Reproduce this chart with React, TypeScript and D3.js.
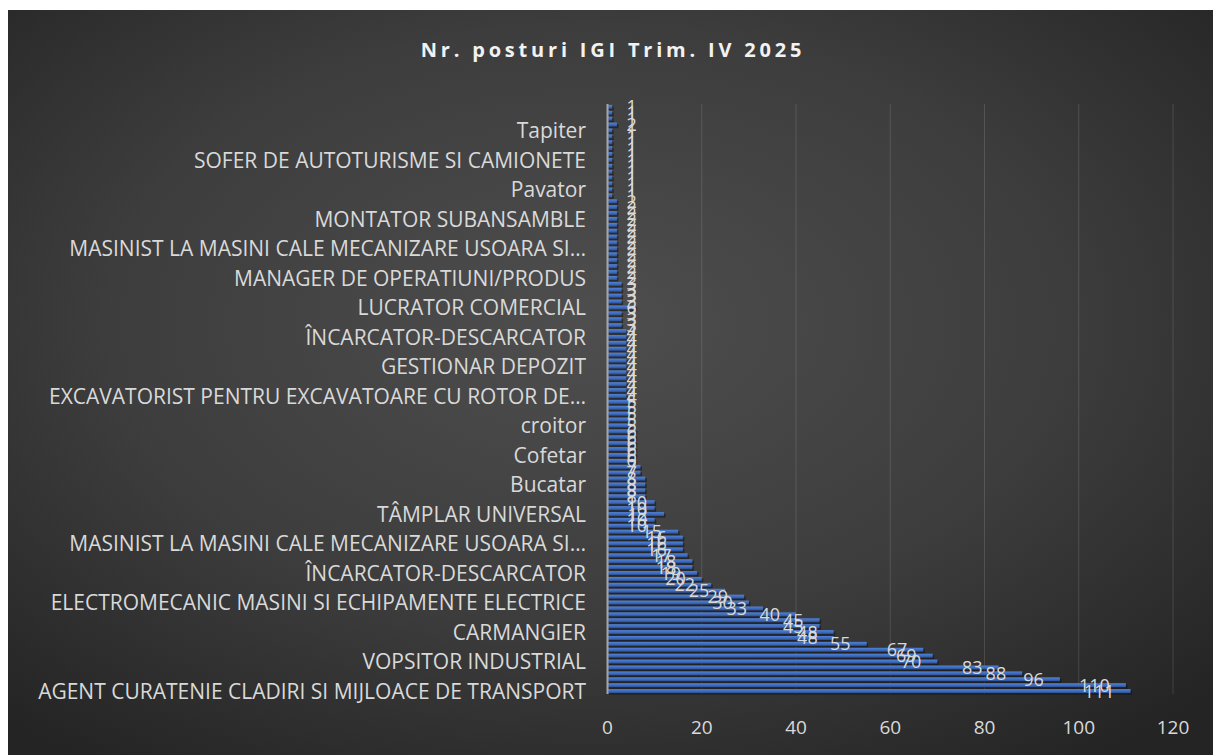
import React from "react";
import { scaleLinear, scaleBand, range } from "d3";

// Nr. posturi IGI, Trim. IV 2025 - bars listed from the bottom of the chart upwards
const title = "Nr. posturi IGI Trim. IV 2025";

const values = [
  111, 110, 96, 88, 83, 70, 69, 67, 55, 48,
  48, 45, 45, 40, 33, 30, 29, 25, 22, 20,
  19, 18, 18, 17, 16, 16, 16, 15, 10, 10,
  12, 10, 10, 8, 8, 8, 8, 7, 7, 6,
  6, 6, 6, 6, 6, 5, 5, 5, 5, 5,
  4, 4, 4, 4, 4, 4, 4, 4, 4, 4,
  4, 4, 3, 3, 3, 6, 3, 3, 3, 3,
  2, 2, 2, 2, 2, 2, 2, 2, 2, 2,
  2, 2, 2, 2, 1, 1, 1, 1, 1, 1,
  1, 1, 1, 1, 1, 1, 2, 1, 1, 1,
];

// only every 5th category name is printed on the axis
const labelStep = 5;
const shownLabels = [
  "AGENT CURATENIE CLADIRI SI MIJLOACE DE TRANSPORT",
  "VOPSITOR INDUSTRIAL",
  "CARMANGIER",
  "ELECTROMECANIC MASINI SI ECHIPAMENTE ELECTRICE",
  "ÎNCARCATOR-DESCARCATOR",
  "MASINIST LA MASINI CALE MECANIZARE USOARA SI…",
  "TÂMPLAR UNIVERSAL",
  "Bucatar",
  "Cofetar",
  "croitor",
  "EXCAVATORIST PENTRU EXCAVATOARE CU ROTOR DE…",
  "GESTIONAR DEPOZIT",
  "ÎNCARCATOR-DESCARCATOR",
  "LUCRATOR COMERCIAL",
  "MANAGER DE OPERATIUNI/PRODUS",
  "MASINIST LA MASINI CALE MECANIZARE USOARA SI…",
  "MONTATOR SUBANSAMBLE",
  "Pavator",
  "SOFER DE AUTOTURISME SI CAMIONETE",
  "Tapiter",
];

const xTicks = [0, 20, 40, 60, 80, 100, 120];

const width = 1213;
const height = 755;
const font = "'Open Sans', 'Noto Sans', sans-serif";
const textColor = "#d9d9d9";

const App = () => {
  const plotTop = 104;
  const plotBottom = 694;

  const xScale = scaleLinear().domain([0, 120]).range([607.5, 1173]);

  const yScale = scaleBand<number>()
    .domain(range(values.length))
    .range([plotBottom, plotTop])
    .paddingInner(0.32)
    .paddingOuter(0.15);

  const bw = yScale.bandwidth();
  const x0 = xScale(0);

  const gridLines = xTicks.slice(1).map((t) => (
    <line
      key={t}
      x1={xScale(t)}
      x2={xScale(t)}
      y1={plotTop}
      y2={plotBottom}
      stroke="#ffffff"
      strokeOpacity={0.13}
      strokeWidth={1}
    />
  ));

  const shadows = values.map((v, i) => (
    <rect
      key={i}
      x={x0 + 1.5}
      y={(yScale(i) as number) + 1.6}
      width={xScale(v) - x0}
      height={bw}
      fill="#111"
      opacity={0.55}
    />
  ));

  const bars = values.map((v, i) => (
    <rect
      key={i}
      x={x0}
      y={yScale(i)}
      width={xScale(v) - x0}
      height={bw}
      fill="url(#barFill)"
    />
  ));

  const labels = values.map((v, i) => {
    const w = String(v).length * 10.3;
    const left = Math.max(xScale(v) - 16 - w, x0 + 19);
    return (
      <text
        key={i}
        x={left}
        y={(yScale(i) as number) + bw / 2 + 6.5}
        fill={textColor}
        fontSize={18}
        fontFamily={font}
      >
        {v}
      </text>
    );
  });

  const catLabels = values.map((v, i) =>
    i % labelStep === 0 ? (
      <text
        key={i}
        x={586}
        y={(yScale(i) as number) + bw / 2 + 7.5}
        textAnchor="end"
        fill={textColor}
        fontSize={21}
        fontFamily={font}
      >
        {shownLabels[i / labelStep]}
      </text>
    ) : null
  );

  const tickLabels = xTicks.map((t) => (
    <text
      key={t}
      x={xScale(t)}
      y={734}
      textAnchor="middle"
      fill={textColor}
      fontSize={19}
      fontFamily={font}
    >
      {t}
    </text>
  ));

  return (
    <svg
      width={width}
      height={height}
      viewBox={`0 0 ${width} ${height}`}
      style={{ position: "absolute", left: 0, top: 0 }}
    >
      <defs>
        <radialGradient id="bg" cx="48%" cy="42%" r="72%">
          <stop offset="0%" stopColor="#4e4e4e" />
          <stop offset="55%" stopColor="#3d3d3d" />
          <stop offset="100%" stopColor="#242424" />
        </radialGradient>
        <linearGradient id="barFill" x1="0" y1="0" x2="0" y2="1">
          <stop offset="0%" stopColor="#5082d6" />
          <stop offset="60%" stopColor="#3c68ba" />
          <stop offset="100%" stopColor="#2a4a86" />
        </linearGradient>
      </defs>
      <rect width={width} height={height} fill="#fff" />
      <rect x={8} y={10} width={width - 8} height={height - 10} fill="url(#bg)" />
      <text
        x={613}
        y={57}
        textAnchor="middle"
        fill="#f2f2f2"
        fontSize={20}
        fontWeight="bold"
        letterSpacing={3.8}
        fontFamily={font}
      >
        {title}
      </text>
      {gridLines}
      {shadows}
      {bars}
      <line x1={x0} x2={x0} y1={plotTop} y2={plotBottom} stroke="#a6a6a6" strokeWidth={2} />
      {labels}
      {catLabels}
      {tickLabels}
    </svg>
  );
};

export default App;
